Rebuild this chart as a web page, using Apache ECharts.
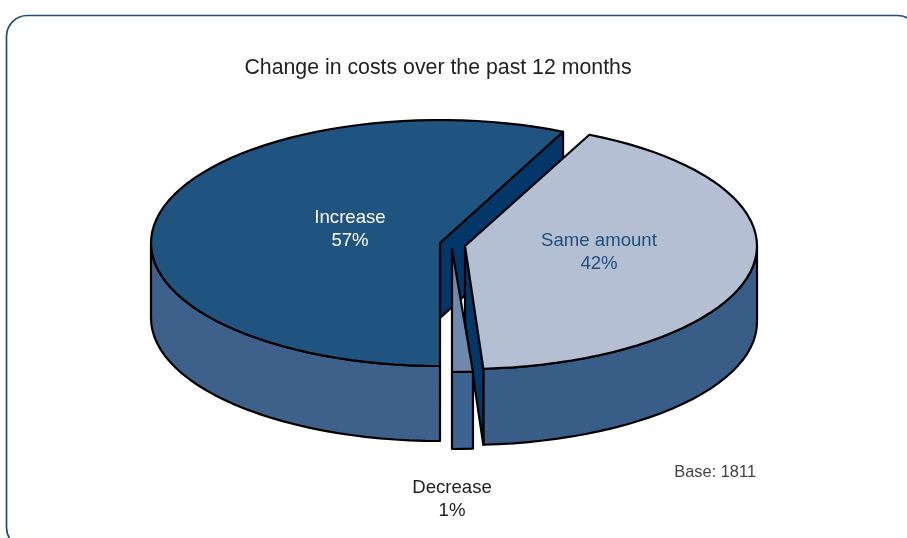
<!DOCTYPE html>
<html><head><meta charset="utf-8">
<style>html,body{margin:0;padding:0;background:#fff}#c{width:907px;height:538px}</style>
<script src="https://cdn.jsdelivr.net/npm/echarts@6/dist/echarts.min.js"></script>
</head><body><div id="c"></div>
<script>
const categories = ['Increase', 'Same amount', 'Decrease'];
const values = [57, 42, 1];
const chartTitle = 'Change in costs over the past 12 months';
const baseNote = 'Base: 1811';

// Drawing style, per slice (same order as categories)
const startAngle = 180; // clockwise from the top of the ellipse
const centres = [[440, 243], [465, 246], [452, 249]];
const radiusX = [289, 292, 334];
const radiusY = 123;
const depth = [75, 76, 77];
const topFill = ['#1f5480', '#b4bfd4', '#6f88ab'];
const wallFill = ['#3d618a', '#385e88', '#3d6390'];
const faceFill = '#03376a';
const labelColor = ['#ffffff', '#1d4f7c', '#222222'];
const labelPos = [[350, 229], [599, 252], [452, 499]];

const total = values.reduce((a, b) => a + b, 0);

function renderItem(params, api) {
  const i = params.dataIndex;
  let a0 = startAngle;
  for (let k = 0; k < i; k++) a0 += values[k] / total * 360;
  const a1 = a0 + api.value(0) / total * 360;
  const [cx, cy] = centres[i];
  const rx = radiusX[i], h = depth[i];
  const pt = (deg, dy) => {
    const t = deg * Math.PI / 180;
    return [cx + rx * Math.sin(t), cy - radiusY * Math.cos(t) + (dy || 0)];
  };
  const arc = (from, to, dy) => {
    const n = Math.max(1, Math.ceil(Math.abs(to - from) / 3));
    const out = [];
    for (let k = 0; k <= n; k++) out.push(pt(from + (to - from) * k / n, dy));
    return out;
  };
  const stroke = { stroke: '#000', lineWidth: 2.2, lineJoin: 'round' };
  const children = [];
  const poly = (points, fill) => children.push({
    type: 'polygon', shape: { points }, style: Object.assign({ fill }, stroke)
  });
  // outer wall: parts of the rim that face the viewer (90..270 deg, also one turn on)
  [[90, 270], [450, 630]].forEach(([lo, hi]) => {
    const f = Math.max(a0, lo), t = Math.min(a1, hi);
    if (f < t) poly(arc(f, t, 0).concat(arc(t, f, h)), wallFill[i]);
  });
  // cut faces
  const norm = d => ((d % 360) + 360) % 360;
  const face = deg => poly([[cx, cy], pt(deg), pt(deg, h), [cx, cy + h]], faceFill);
  const s = norm(a0), e = norm(a1);
  if (s > 180 && s < 360) face(a0);
  if (e > 0 && e < 180) face(a1);
  // top
  poly([[cx, cy]].concat(arc(a0, a1, 0)), topFill[i]);
  // label
  children.push({
    type: 'text',
    style: {
      text: categories[i] + '\n' + api.value(0) + '%',
      x: labelPos[i][0], y: labelPos[i][1],
      textAlign: 'center', textVerticalAlign: 'middle',
      fill: labelColor[i], lineHeight: 23,
      font: '18.6px "Liberation Sans", Arial, sans-serif'
    }
  });
  return { type: 'group', children };
}

const chart = echarts.init(document.getElementById('c'), null, { renderer: 'canvas' });
chart.setOption({
  animation: false,
  backgroundColor: '#ffffff',
  title: {
    text: chartTitle, left: 433, top: 53, textAlign: 'center',
    textStyle: { fontFamily: '"Liberation Sans", Arial, sans-serif', fontSize: 21.3, fontWeight: 'normal', color: '#222222' }
  },
  graphic: [
    { type: 'rect', z: -1, silent: true,
      shape: { x: 6.5, y: 15.5, width: 912, height: 533, r: 21 },
      style: { fill: 'none', stroke: '#1b4f80', lineWidth: 1.7 } },
    { type: 'text', silent: true, x: 756, y: 472,
      style: { text: baseNote, textAlign: 'right', textVerticalAlign: 'middle', fill: '#444444',
               font: '16.4px "Liberation Sans", Arial, sans-serif' } }
  ],
  series: [{
    type: 'custom',
    coordinateSystem: 'none',
    silent: true,
    renderItem,
    data: values.map((v, i) => ({ name: categories[i], value: [v] }))
  }]
});
</script></body></html>
